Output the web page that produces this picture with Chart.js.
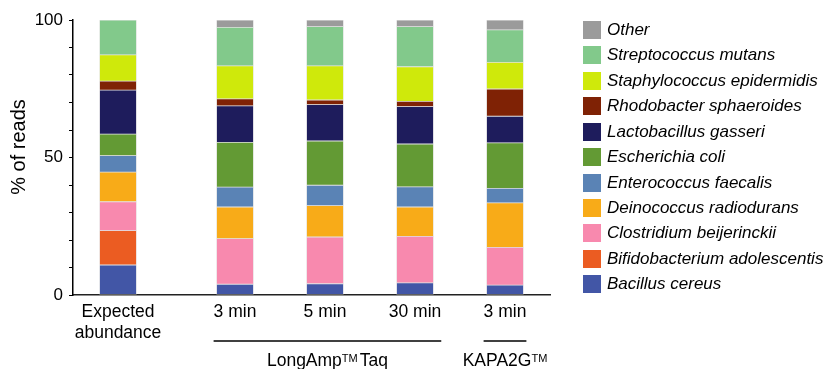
<!DOCTYPE html>
<html lang="en">
<head>
  <meta charset="UTF-8">
  <title>% of reads per species</title>
  <script src="https://cdn.jsdelivr.net/npm/chart.js"></script>
  <style>
    body {
      margin: 0;
      background: #fff;
      overflow: hidden;
      font-family: 'Liberation Sans', Arial, sans-serif;
    }

    #wrap {
      position: relative;
      width: 825px;
      height: 369px;
    }

    #legend {
      position: absolute;
      left: 583px;
      top: 21px;
      margin: 0;
      padding: 0;
      list-style: none;
    }

    #legend li {
      display: flex;
      align-items: center;
      height: 18px;
      margin-bottom: 7.43px;
      font-size: 17px;
      font-style: italic;
      white-space: nowrap;
      color: #000;
    }

    #legend .box {
      width: 18px;
      height: 18px;
      margin-right: 6px;
      flex: none;
    }
  </style>
</head>
<body>
  <div id="wrap">
    <canvas id="chart"></canvas>
    <ul id="legend"></ul>
  </div>

  <script>
    const FONT = "'Liberation Sans', Arial, sans-serif";

    // bars, left to right
    const barLabels = [['Expected', 'abundance'], '3 min', '5 min', '30 min', '3 min'];
    const barX = [0, 1.3, 2.3, 3.3, 4.3];

    // groups under the bars
    const groupNames = ['LongAmp', 'KAPA2G'];
    const groupTails = ['Taq', ''];
    const groupFirst = [1, 4];
    const groupLast = [3, 4];

    // % of reads, stacked bottom to top
    const bacillus = [10.9, 3.9, 4.1, 4.4, 3.6];
    const bifido = [12.5, 0, 0, 0, 0];
    const clostridium = [10.5, 16.6, 17.0, 16.9, 13.7];
    const deinococcus = [10.8, 11.5, 11.4, 10.7, 16.2];
    const enterococcus = [6.0, 7.2, 7.4, 7.3, 5.3];
    const ecoli = [7.8, 16.3, 16.1, 15.6, 16.5];
    const lacto = [16.0, 13.3, 13.2, 13.6, 9.7];
    const rhodo = [3.3, 2.5, 1.7, 1.9, 9.9];
    const staph = [9.5, 12.0, 12.4, 12.6, 9.7];
    const strep = [12.7, 14.0, 14.3, 14.6, 11.8];
    const other = [0, 2.7, 2.4, 2.4, 3.6];

    const species = [
      'Bacillus cereus', 'Bifidobacterium adolescentis', 'Clostridium beijerinckii',
      'Deinococcus radiodurans', 'Enterococcus faecalis', 'Escherichia coli',
      'Lactobacillus gasseri', 'Rhodobacter sphaeroides', 'Staphylococcus epidermidis',
      'Streptococcus mutans', 'Other'
    ];
    const series = [bacillus, bifido, clostridium, deinococcus, enterococcus, ecoli,
                    lacto, rhodo, staph, strep, other];
    const colors = ['#4256a6', '#eb5c22', '#f889ae', '#f8ab18', '#5a83b5', '#639a34',
                    '#1e1c5c', '#7f2205', '#cfe90b', '#82c98b', '#9b9b9b'];

    const tickFont = { size: 17.5, family: FONT };

    // y title, group lines and group labels
    const annotations = {
      id: 'annotations',
      afterDraw(chart) {
        const ctx = chart.ctx;
        const x = chart.scales.x;

        ctx.save();
        ctx.fillStyle = '#000';
        ctx.font = '20px ' + FONT;
        ctx.textAlign = 'center';
        ctx.textBaseline = 'middle';
        ctx.translate(19.5, 147);
        ctx.rotate(-Math.PI / 2);
        ctx.fillText('% of reads', 0, 0);
        ctx.restore();

        ctx.save();
        ctx.strokeStyle = '#000';
        ctx.fillStyle = '#000';
        ctx.lineWidth = 1.5;
        groupNames.forEach((name, g) => {
          ctx.font = tickFont.size + 'px ' + FONT;
          const a = groupFirst[g], b = groupLast[g];
          const left = x.getPixelForValue(barX[a]) - ctx.measureText(barLabels[a]).width / 2;
          const right = x.getPixelForValue(barX[b]) + ctx.measureText(barLabels[b]).width / 2;
          ctx.beginPath();
          ctx.moveTo(left, 341);
          ctx.lineTo(right, 341);
          ctx.stroke();

          const wName = ctx.measureText(name).width;
          const wTail = groupTails[g] ? ctx.measureText(groupTails[g]).width + 2 : 0;
          ctx.font = '11px ' + FONT;
          const wSup = ctx.measureText('TM').width;
          let cx = (left + right) / 2 - (wName + wSup + wTail) / 2;
          ctx.textAlign = 'left';
          ctx.textBaseline = 'alphabetic';
          ctx.font = tickFont.size + 'px ' + FONT;
          ctx.fillText(name, cx, 366);
          cx += wName;
          ctx.font = '11px ' + FONT;
          ctx.fillText('TM', cx, 361.5);
          cx += wSup + 2;
          ctx.font = tickFont.size + 'px ' + FONT;
          ctx.fillText(groupTails[g], cx, 366);
        });
        ctx.restore();
      }
    };

    new Chart(document.getElementById('chart'), {
      type: 'bar',
      data: {
        datasets: species.map((name, i) => ({
          label: name,
          data: series[i].map((v, j) => ({ x: barX[j], y: v === 0 ? null : v })),
          backgroundColor: colors[i],
          borderColor: 'rgba(215,215,215,0.6)',
          borderWidth: 0.75,
          borderSkipped: false,
          barThickness: 37
        }))
      },
      options: {
        responsive: true,
        maintainAspectRatio: false,
        animation: false,
        layout: { padding: { top: 20, right: 275, bottom: 0, left: 0 } },
        plugins: {
          legend: { display: false },
          tooltip: { enabled: false }
        },
        scales: {
          x: {
            type: 'linear',
            stacked: true,
            min: -0.5,
            max: 4.8,
            offset: false,
            grid: { display: false, drawTicks: false, offset: false },
            border: { color: '#222', width: 1.5 },
            afterBuildTicks: s => { s.ticks = barX.map(v => ({ value: v })); },
            afterFit: s => { s.height = 74; },
            ticks: {
              callback: (v, i) => barLabels[i],
              color: '#000',
              padding: 7,
              autoSkip: false,
              maxRotation: 0,
              font: tickFont
            }
          },
          y: {
            stacked: true,
            min: 0,
            max: 100,
            ticks: {
              stepSize: 10,
              callback: v => (v % 50 === 0 ? v : ''),
              color: '#000',
              padding: 6,
              font: { size: 17, family: FONT }
            },
            grid: { drawOnChartArea: false, tickLength: 4, color: '#000' },
            border: { color: '#000', width: 1.5 },
            afterFit: s => { s.width = 73; }
          }
        }
      },
      plugins: [annotations]
    });

    // legend, top to bottom
    const legend = document.getElementById('legend');
    for (let i = species.length - 1; i >= 0; i--) {
      const li = document.createElement('li');
      const box = document.createElement('span');
      box.className = 'box';
      box.style.background = colors[i];
      li.appendChild(box);
      li.appendChild(document.createTextNode(species[i]));
      legend.appendChild(li);
    }
  </script>
</body>
</html>
